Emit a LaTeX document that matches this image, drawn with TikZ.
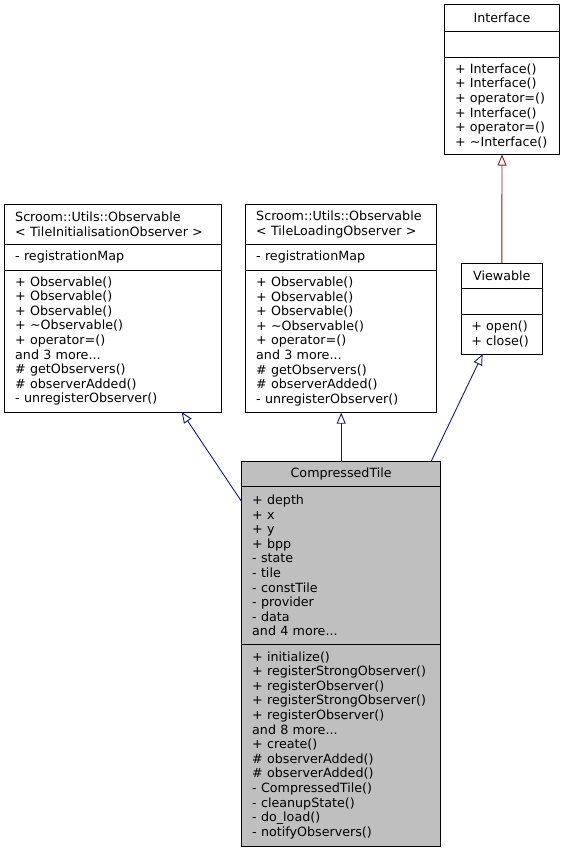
\documentclass[tikz,border=0pt]{standalone}
\usepackage{fontspec}
\setmainfont{DejaVu Sans}
\usetikzlibrary{arrows.meta,calc}
\definecolor{edgeblue}{HTML}{191970}
\definecolor{edgered}{HTML}{8B1A1A}
\definecolor{boxgray}{HTML}{BFBFBF}
\tikzset{
  comp/.style={draw=black, line width=1pt, outer sep=0pt, inner sep=0pt,
    anchor=north west, fill=white, font=\fontsize{12.7}{14.6}\selectfont},
  ctitle/.style={comp, align=center},
  clist/.style={comp, align=left},
  inh/.style={draw=edgeblue, line width=0.9pt, -{Triangle[open,length=11pt,width=9pt]}},
  inhred/.style={inh, draw=edgered},
}
\begin{document}
\begin{tikzpicture}[x=1pt,y=-1pt]
\useasboundingbox[fill=white] (0,0) rectangle (566,852);

% Interface
\node[ctitle, minimum width=115, minimum height=27, text width=94] (if-t) at (444.5,4.5) {Interface};
\node[clist, minimum width=115, minimum height=25.5, text width=94] (if-a) at (if-t.south west) {};
\node[clist, minimum width=115, minimum height=97.5, text width=94] (if-m) at (if-a.south west)
 {+ Interface()\\+ Interface()\\+ operator=()\\+ Interface()\\+ operator=()\\+ \textasciitilde Interface()};

% Observable <TileInitialisationObserver>
\node[clist, minimum width=217, minimum height=40, text width=196] (o1-t) at (4.7,204.3)
 {Scroom::Utils::Observable\\< TileInitialisationObserver >};
\node[clist, minimum width=217, minimum height=25.7, text width=196] (o1-a) at (o1-t.south west)
 {- registrationMap};
\node[clist, minimum width=217, minimum height=142, text width=196] (o1-m) at (o1-a.south west)
 {+ Observable()\\+ Observable()\\+ Observable()\\+ \textasciitilde Observable()\\+ operator=()\\and 3 more...\\\# getObservers()\\\# observerAdded()\\- unregisterObserver()};

% Observable <TileLoadingObserver>
\node[clist, minimum width=191, minimum height=40, text width=170] (o2-t) at (245.7,204.3)
 {Scroom::Utils::Observable\\< TileLoadingObserver >};
\node[clist, minimum width=191, minimum height=25.7, text width=170] (o2-a) at (o2-t.south west)
 {- registrationMap};
\node[clist, minimum width=191, minimum height=142.7, text width=170] (o2-m) at (o2-a.south west)
 {+ Observable()\\+ Observable()\\+ Observable()\\+ \textasciitilde Observable()\\+ operator=()\\and 3 more...\\\# getObservers()\\\# observerAdded()\\- unregisterObserver()};

% Viewable
\node[ctitle, minimum width=81.7, minimum height=25, text width=61] (vw-t) at (461,263.3) {Viewable};
\node[clist, minimum width=81.7, minimum height=26, text width=61] (vw-a) at (vw-t.south west) {};
\node[clist, minimum width=81.7, minimum height=39.7, text width=61] (vw-m) at (vw-a.south west)
 {+ open()\\+ close()};

% CompressedTile
\node[ctitle, fill=boxgray, minimum width=199, minimum height=25, text width=178] (ct-t) at (241.7,461.7) {CompressedTile};
\node[clist, fill=boxgray, minimum width=199, minimum height=157.6, text width=178] (ct-a) at (ct-t.south west)
 {+ depth\\+ x\\+ y\\+ bpp\\- state\\- tile\\- constTile\\- provider\\- data\\and 4 more...};
\node[clist, fill=boxgray, minimum width=199, minimum height=201.7, text width=178] (ct-m) at (ct-a.south west)
 {+ initialize()\\+ registerStrongObserver()\\+ registerObserver()\\+ registerStrongObserver()\\+ registerObserver()\\and 8 more...\\+ create()\\\# observerAdded()\\\# observerAdded()\\- CompressedTile()\\- cleanupState()\\- do\_load()\\- notifyObservers()};

% inheritance
\draw[inh] ($(ct-t.north west)+(0,40)$) -- ($(o1-m.south west)+(177,0)$);
\draw[inh] (ct-t.north) -- (o2-m.south);
\draw[inh] ($(ct-t.north east)+(-9.7,0)$) -- ($(vw-m.south)+(-19.2,0)$);
\draw[inhred] (vw-t.north) -- (if-m.south);
\end{tikzpicture}
\end{document}
